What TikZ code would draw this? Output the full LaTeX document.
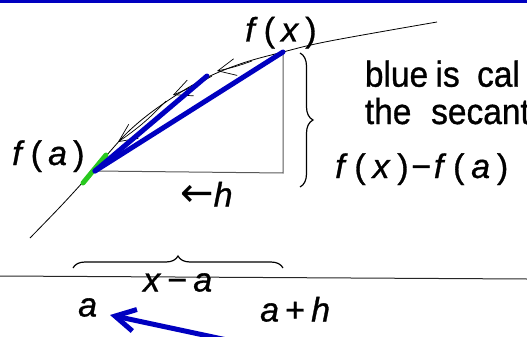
\documentclass[tikz,border=0pt]{standalone}
\usepackage{fontspec}
\setmainfont[FakeBold=0.9]{Liberation Sans}
\newfontfamily\dvfont{DejaVu Sans}
\usetikzlibrary{arrows.meta,decorations.pathreplacing}
\definecolor{dblue}{RGB}{0,0,192}
\definecolor{lgreen}{RGB}{40,200,30}
\newcommand\mi[1]{\textit{#1}}
\newcommand\gp{\hspace{0.18em}}
\begin{document}
\begin{tikzpicture}[x=1pt,y=-1pt,
  lbl/.style={inner sep=0pt, anchor=base west, font=\fontsize{34}{38}\selectfont},
  body/.style={inner sep=0pt, anchor=base west, font=\fontsize{36}{40}\selectfont},
  secant/.style={dblue, line width=5pt, line cap=round},
  greenseg/.style={lgreen, line width=5pt, line cap=round},
  curv/.style={black, line width=0.8pt},
  tri/.style={black!65, line width=1pt},
  carrow/.style={line width=0.7pt, -{Straight Barb[length=18pt,width=17pt]}},
  bracestyle/.style={decorate, line width=1.2pt}
]
\useasboundingbox (0,0) rectangle (527,337);
\clip (0,0) rectangle (527,337);
\fill[dblue] (0,0) rectangle (527,3.5);

% named points
\coordinate (A) at (95,171);
\coordinate (X) at (283,52);
\coordinate (M) at (207,76);
\coordinate (C) at (283,173);

% curve
\draw[curv] plot[smooth, tension=0.6] coordinates {(30,238) (60,207) (83,182) (106,156) (130,130) (160,106) (200,81) (240,64) (283,52) (330,41) (437,22)};

% arrows along the curve
\draw[carrow] (252,61) to[bend left=4] (217,71);
\draw[carrow] (212,76) to[bend left=4] (173,95);
\draw[carrow] (166,101) to[bend left=6] (118,142);

% triangle
\draw[tri] (A) -- (C) -- (X);

% green and blue segments
\draw[greenseg] (83,183) -- (106,155);
\draw[secant] (A) -- (X);
\draw[secant] (A) -- (M);

% braces
\draw[bracestyle, decoration={brace, amplitude=13pt}] (300,53) -- (300,187);
\draw[bracestyle, decoration={brace, amplitude=12pt}] (73,268) -- (283,268);

% axis
\draw[line width=1pt, black!85] (0,276) -- (527,279);

% bottom arrow
\coordinate (B0) at (227,340);
\coordinate (B1) at (110,315);
\draw[secant, -{Straight Barb[length=20pt,width=22pt]}] (B0) -- (B1);

% labels
\node[lbl] (fx) at (245,41.5) {\mi{f}\gp(\gp\mi{x}\gp)};
\node[lbl] (fa) at (12,165) {\mi{f}\gp(\gp\mi{a}\gp)};
\node[lbl] (fxfa) at (335,178) {\mi{f}\hspace{0.2em}(\hspace{0.2em}\mi{x}\hspace{0.2em})\hspace{0.08em}−\hspace{0.08em}\mi{f}\hspace{0.2em}(\hspace{0.2em}\mi{a}\hspace{0.2em})};
\node[lbl] (h) at (180,206.5) {{\dvfont\fontsize{40}{44}\selectfont ←}\mi{h}};
\node[lbl] (xa) at (143,291.5) {\mi{x}\gp−\gp\mi{a}};
\node[lbl] (a) at (78,316.5) {\mi{a}};
\node[lbl] (ah) at (260,321.5) {\mi{a}\gp+\gp\mi{h}};

\node[body] (t1) at (364.7,86.7) {\scalebox{0.93}[1]{blue\hspace{0.22em}is\hspace{0.52em}cal}};
\node[body] (t2) at (364.7,124) {\scalebox{0.93}[1]{the\hspace{0.59em}secant}};
\end{tikzpicture}
\end{document}
